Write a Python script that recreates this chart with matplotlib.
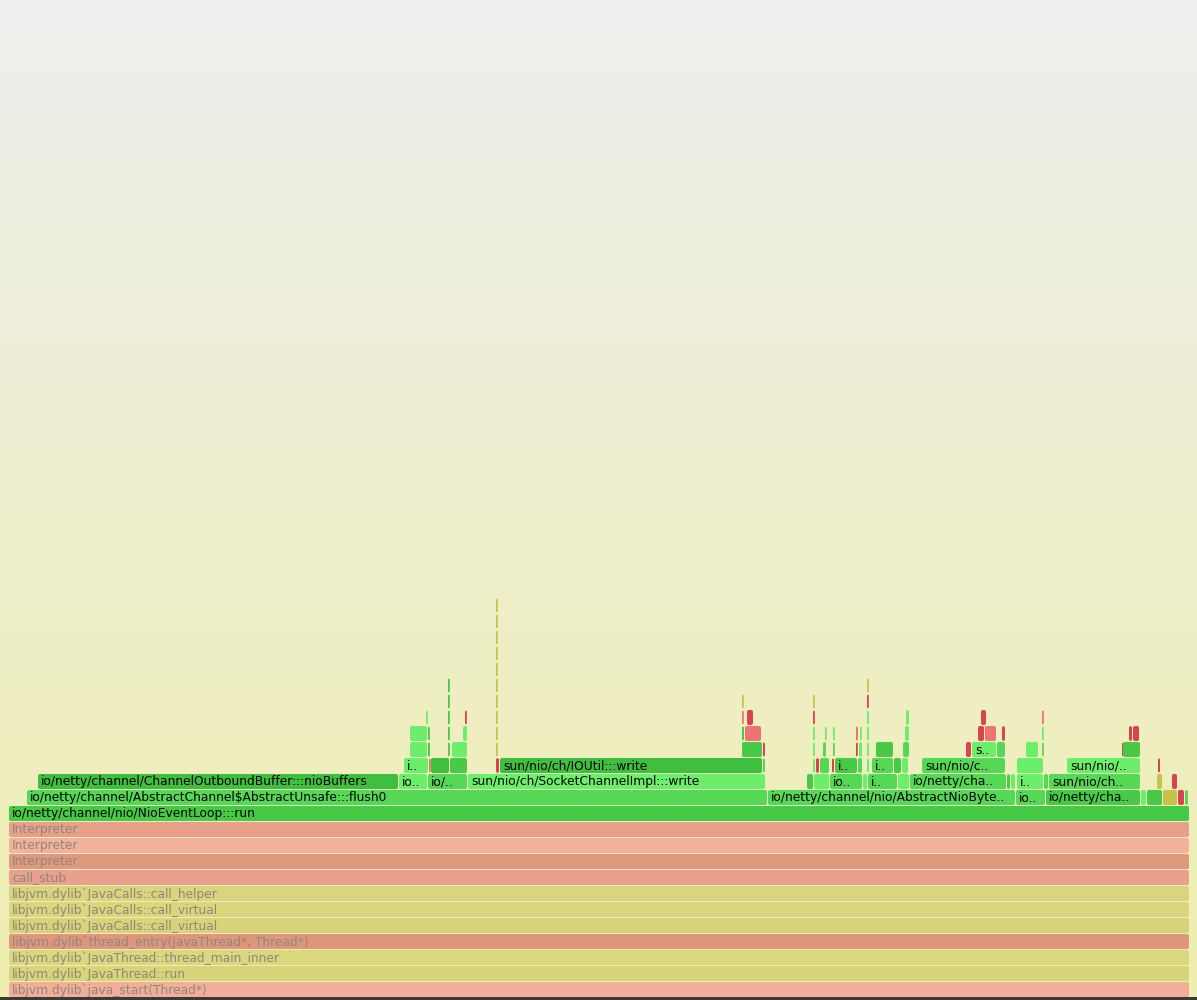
"""
Flame graph of a netty event loop thread (CPU samples).
"""
import numpy as np
import matplotlib
matplotlib.use("Agg")
import matplotlib.pyplot as plt
from matplotlib.patches import FancyBboxPatch, Rectangle
from matplotlib.colors import LinearSegmentedColormap

# total samples on the thread root
root_width = 1180

# full-width frames, from the thread root upward (depth 0..11)
base_labels = [
    "libjvm.dylib`java_start(Thread*)",
    "libjvm.dylib`JavaThread::run",
    "libjvm.dylib`JavaThread::thread_main_inner",
    "libjvm.dylib`thread_entry(JavaThread*, Thread*)",
    "libjvm.dylib`JavaCalls::call_virtual",
    "libjvm.dylib`JavaCalls::call_virtual",
    "libjvm.dylib`JavaCalls::call_helper",
    "call_stub",
    "Interpreter",
    "Interpreter",
    "Interpreter",
    "io/netty/channel/nio/NioEventLoop:::run",
]
base_colors = ["#f2ae98", "#d8d479", "#dbd77e", "#e0967c", "#d8d37a", "#dbd67e",
               "#d9d47d", "#e9a08c", "#e0987f", "#f3b19b", "#e8a08a", "#46ca46"]

# partial frames per depth: (start sample, samples, label, kind)
row12 = [(18, 741, "io/netty/channel/AbstractChannel$AbstractUnsafe:::flush0", "g2"),
         (759, 248, "io/netty/channel/nio/AbstractNioByte..", "g2"),
         (1007, 30, "io..", "g2"), (1037, 95, "io/netty/cha..", "g1"),
         (1132, 6, "", "g3"), (1138, 16, "", "g1"), (1154, 15, "", "y"),
         (1169, 7, "", "r1"), (1176, 4, "", "g2")]
row13 = [(29, 361, "io/netty/channel/ChannelOutboundBuffer:::nioBuffers", "g0"),
         (390, 29, "io..", "g3"), (419, 40, "io/..", "g2"),
         (459, 298, "sun/nio/ch/SocketChannelImpl:::write", "g3"),
         (798, 7, "", "g1"), (805, 16, "", "g3"), (821, 33, "io..", "g2"),
         (854, 5, "", "g3"), (859, 30, "i..", "g2"), (889, 12, "", "g3"),
         (901, 97, "io/netty/cha..", "g2"), (998, 4, "", "g1"), (1002, 5, "", "g3"),
         (1008, 27, "i..", "g3"), (1035, 5, "", "g2"), (1040, 92, "sun/nio/ch..", "g2"),
         (1148, 6, "", "y"), (1163, 6, "", "r1")]
row14 = [(395, 25, "i..", "g3"), (420, 2, "", "r2"), (422, 19, "", "g0"),
         (441, 18, "", "g1"), (487, 4, "", "r1"),
         (491, 263, "sun/nio/ch/IOUtil:::write", "g0"), (754, 3, "", "g2"),
         (804, 3, "", "g3"), (807, 4, "", "r1"), (811, 10, "", "g2"),
         (823, 3, "", "r1"), (826, 23, "i..", "g1"), (849, 5, "", "g2"),
         (858, 3, "", "g3"), (863, 22, "i..", "g2"), (885, 8, "", "g1"),
         (893, 7, "", "g3"), (913, 84, "sun/nio/c..", "g2"), (1008, 27, "", "g3"),
         (1058, 74, "sun/nio/..", "g3"), (1149, 3, "", "r1")]
row15 = [(401, 18, "", "g3"), (419, 3, "", "g1"), (439, 2, "", "g1"),
         (443, 16, "", "g3"), (487, 2, "", "y"), (733, 21, "", "g1"),
         (754, 3, "", "r1"), (804, 2, "", "g3"), (814, 4, "", "g2"),
         (824, 2, "", "g2"), (847, 2, "", "r1"), (850, 4, "", "g3"),
         (858, 2, "", "g3"), (867, 18, "", "g1"), (894, 7, "", "g2"),
         (957, 6, "", "r1"), (963, 25, "s..", "g3"), (988, 9, "", "g2"),
         (1017, 13, "", "g3"), (1033, 2, "", "g2"), (1113, 1, "", "r1"),
         (1114, 18, "", "g1")]
row16 = [(401, 18, "", "g3"), (419, 2, "", "g1"), (439, 2, "", "g1"),
         (454, 5, "", "g3"), (487, 2, "", "y"), (733, 3, "", "g1"),
         (736, 17, "", "r2"), (804, 2, "", "g3"), (816, 2, "", "g3"),
         (824, 2, "", "g3"), (847, 3, "", "r2"), (851, 2, "", "g3"),
         (858, 2, "", "g3"), (896, 5, "", "g3"), (969, 7, "", "r1"),
         (976, 12, "", "r2"), (993, 4, "", "r1"), (1033, 2, "", "g3"),
         (1120, 4, "", "r1"), (1124, 7, "", "r1")]
row17 = [(417, 2, "", "g3"), (439, 2, "", "g1"), (456, 2, "", "r1"),
         (487, 2, "", "y"), (733, 2, "", "r2"), (738, 7, "", "r1"),
         (804, 2, "", "r1"), (858, 2, "", "g3"), (897, 4, "", "g3"),
         (972, 6, "", "r1"), (1033, 2, "", "r2")]
row18 = [(439, 2, "", "g1"), (487, 2, "", "y"), (733, 2, "", "y"),
         (804, 2, "", "y"), (858, 2, "", "r1")]
row19 = [(439, 2, "", "g1"), (487, 2, "", "y"), (858, 2, "", "y")]
row20 = [(487, 2, "", "y")]
row21 = [(487, 2, "", "y")]
row22 = [(487, 2, "", "y")]
row23 = [(487, 2, "", "y")]
row24 = [(487, 2, "", "y")]

PALETTE = {
    "g0": "#3ec03e", "g1": "#47cb47", "g2": "#55d855", "g3": "#6bef6b",
    "r1": "#d8454f", "r2": "#ee7373", "y": "#c8c24a",
}
ROW_H = 16      # pixels per stack level
X0 = 9          # left margin in pixels
Y0 = 3          # bottom margin in pixels


def draw_frame(ax, depth, start, width, label, color, text_color):
    """Draw one stack frame as a rounded box with its (truncated) name."""
    y = Y0 + depth * ROW_H
    # keep 1px gaps between neighbours, but thin frames stay visible
    w = max(width - 1, 1.8)
    box = FancyBboxPatch((X0 + start, y), w, ROW_H - 1,
                         boxstyle="round,pad=0,rounding_size=2",
                         linewidth=0, facecolor=color, zorder=2)
    ax.add_patch(box)
    if label:
        ax.text(X0 + start + 3, y + (ROW_H - 1) / 2 - 0.5, label,
                fontsize=8.8, color=text_color, va="center", ha="left", zorder=3)


fig = plt.figure(figsize=(11.97, 10), dpi=100)
ax = fig.add_axes([0, 0, 1, 1])
ax.set_xlim(0, 1197)
ax.set_ylim(0, 1000)
ax.axis("off")

# background gradient, grey at the top to pale yellow at the bottom
cmap = LinearSegmentedColormap.from_list("bg", ["#eeeeb0", "#eeeeee"])
ax.imshow(np.linspace(0, 1, 256).reshape(-1, 1), cmap=cmap, aspect="auto",
          extent=(0, 1197, 0, 1000), origin="lower", zorder=0)

for depth, (label, color) in enumerate(zip(base_labels, base_colors)):
    txt = "black" if color == "#46ca46" else "#8c887c"
    draw_frame(ax, depth, 0, root_width + 1, label, color, txt)

rows = [row12, row13, row14, row15, row16, row17, row18,
        row19, row20, row21, row22, row23, row24]
for depth, row in enumerate(rows, start=12):
    for start, width, label, kind in row:
        draw_frame(ax, depth, start, width, label, PALETTE[kind], "black")

# dark status strip cut off at the very bottom of the screenshot
fig.patches.append(Rectangle((0, 0), 1, 0.003, transform=fig.transFigure,
                             facecolor="#3a3a3a", edgecolor="none"))

fig.savefig("out.png", dpi=100)
